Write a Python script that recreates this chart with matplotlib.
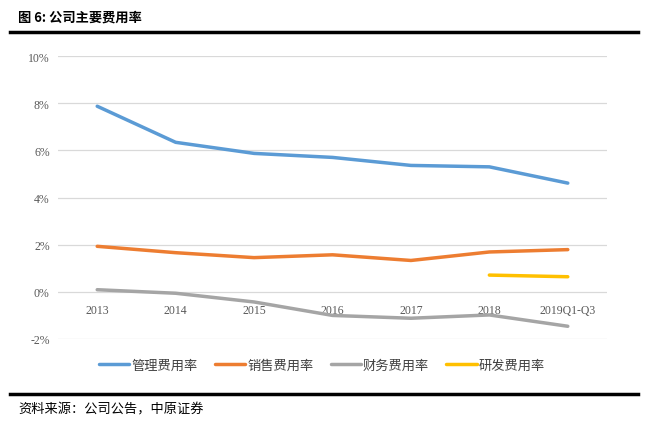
import matplotlib
matplotlib.use("Agg")
import matplotlib.pyplot as plt
import numpy as np

plt.rcParams['font.family'] = ['Noto Sans CJK SC', 'DejaVu Sans']

categories = ["2013", "2014", "2015", "2016", "2017", "2018", "2019Q1-Q3"]
mgmt = [7.87, 6.34, 5.87, 5.70, 5.36, 5.30, 4.61]
sales = [1.93, 1.66, 1.45, 1.57, 1.33, 1.69, 1.79]
fin = [0.09, -0.06, -0.43, -1.00, -1.12, -0.98, -1.46]
rnd = [np.nan, np.nan, np.nan, np.nan, np.nan, 0.71, 0.64]
series_names = ["管理费用率", "销售费用率", "财务费用率", "研发费用率"]
colors = ["#5B9BD5", "#ED7D31", "#A5A5A5", "#FFC000"]
yticks = [-2, 0, 2, 4, 6, 8, 10]

fig = plt.figure(figsize=(6.45, 4.27), dpi=100)
ax = fig.add_axes([58/645, 1-340/427, (607-58)/645, (340-57)/427])

x = np.arange(len(categories))
for vals, name, c in zip([mgmt, sales, fin, rnd], series_names, colors):
    ax.plot(x, vals, color=c, lw=2.5, label=name, solid_capstyle='round', zorder=3)

ax.set_xlim(-0.5, len(categories)-0.5)
ax.set_ylim(-2, 10)
ax.set_yticks(yticks)
ax.set_yticklabels([f"{v}%" for v in yticks], fontfamily='Liberation Serif', fontsize=8.5, color='#595959')
ax.grid(axis='y', color='#D9D9D9', lw=0.9, zorder=0)
ax.set_axisbelow(True)
for s in ['top', 'right', 'left']:
    ax.spines[s].set_visible(False)
ax.spines['bottom'].set_position(('data', 0))
ax.spines['bottom'].set_visible(False)
ax.set_xticks(x)
ax.set_xticklabels(categories, fontfamily='Liberation Serif', fontsize=8.5, color='#595959')
ax.tick_params(axis='both', length=0, pad=6)
ax.tick_params(axis='x', pad=9)
for lbl in ax.get_xticklabels():
    lbl.set_zorder(1)

leg = fig.legend(loc='center', bbox_to_anchor=(322/645, 1-366/427), ncol=4, frameon=False,
                 fontsize=9.5, handlelength=2.3, columnspacing=1.3, handletextpad=0.15)
for t in leg.get_texts():
    t.set_color('#404040')

fig.text(18/645, 1-18/427, "图 6: 公司主要费用率", fontsize=9.5, fontweight='bold', va='center', ha='left')
fig.add_artist(plt.Line2D([10/645, 638/645], [1-33/427, 1-33/427], color='black', lw=2.5, transform=fig.transFigure))
fig.add_artist(plt.Line2D([10/645, 638/645], [1-395/427, 1-395/427], color='black', lw=2.5, transform=fig.transFigure))
fig.text(18/645, 1-410/427, "资料来源：公司公告，中原证券", fontsize=9.5, va='center', ha='left')

fig.savefig("out.png", dpi=100)
